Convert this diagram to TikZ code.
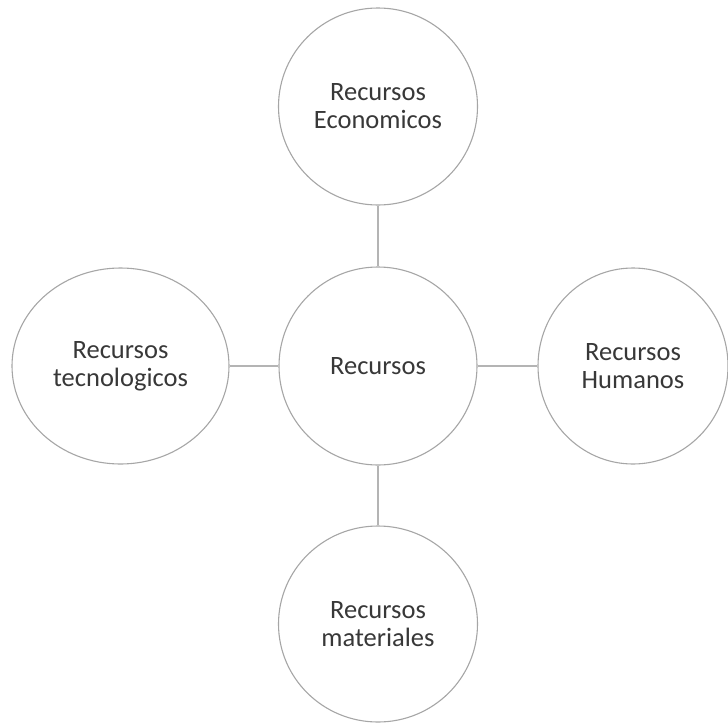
\documentclass[tikz,border=0pt]{standalone}
\usepackage{fontspec}
\setmainfont{Carlito}
\usetikzlibrary{shapes.geometric}
\definecolor{ringgray}{HTML}{A6A6A6}
\definecolor{linkgray}{HTML}{B4B4B4}
\definecolor{textgray}{HTML}{383838}
\begin{document}
\begin{tikzpicture}[x=1pt,y=-1pt,
  bubble/.style={ellipse, draw=ringgray, line width=1.1pt, fill=white,
    inner sep=0pt, align=center, text=textgray,
    font=\fontsize{26.5}{28}\selectfont},
  link/.style={draw=linkgray, line width=2.4pt}]
\useasboundingbox (0,0) rectangle (728,723);
% hub and the four resources around it
\node[bubble, minimum width=198pt, minimum height=198pt] (hub) at (378,366) {Recursos};
\node[bubble, minimum width=199pt, minimum height=197pt] (eco) at (378,106.5) {Recursos\\Economicos};
\node[bubble, minimum width=217pt, minimum height=196pt] (tec) at (120.5,366) {Recursos\\tecnologicos};
\node[bubble, minimum width=190pt, minimum height=196pt] (hum) at (633,366) {Recursos\\Humanos};
\node[bubble, minimum width=199pt, minimum height=196pt] (mat) at (378,624) {Recursos\\materiales};
% spokes
\draw[link] (eco.south) -- (hub.north);
\draw[link] (hub.south) -- (mat.north);
\draw[link] (tec.east) -- (hub.west);
\draw[link] (hub.east) -- (hum.west);
\end{tikzpicture}
\end{document}
